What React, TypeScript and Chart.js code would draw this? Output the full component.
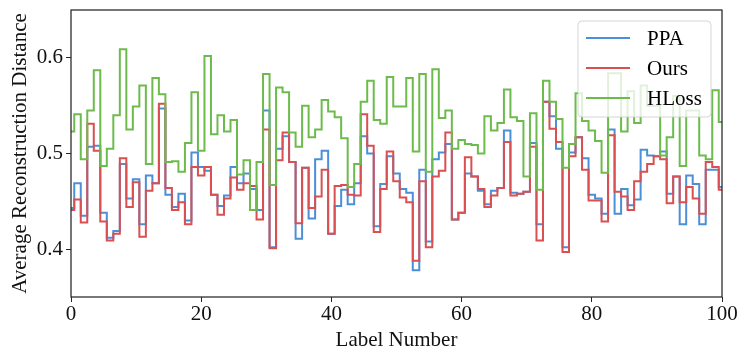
import React, { useEffect, useRef } from 'react';
import { Chart, registerables } from 'chart.js';

Chart.register(...registerables);

const seriesNames = ['PPA', 'Ours', 'HLoss'];
const seriesColors = ['#4b8fd6', '#d94f52', '#6cbb4c'];

const ppa = [
  0.443, 0.469, 0.435, 0.507, 0.508, 0.438, 0.412, 0.419, 0.489, 0.453,
  0.473, 0.426, 0.477, 0.469, 0.547, 0.457, 0.444, 0.458, 0.430, 0.501,
  0.486, 0.482, 0.457, 0.445, 0.456, 0.486, 0.469, 0.479, 0.463, 0.441,
  0.545, 0.402, 0.505, 0.518, 0.491, 0.411, 0.485, 0.432, 0.494, 0.503,
  0.416, 0.445, 0.462, 0.447, 0.469, 0.518, 0.500, 0.424, 0.468, 0.497,
  0.479, 0.463, 0.459, 0.378, 0.483, 0.408, 0.494, 0.501, 0.510, 0.431,
  0.438, 0.479, 0.476, 0.461, 0.447, 0.461, 0.464, 0.524, 0.459, 0.458,
  0.460, 0.511, 0.426, 0.554, 0.539, 0.505, 0.402, 0.501, 0.517, 0.495,
  0.457, 0.453, 0.437, 0.525, 0.437, 0.463, 0.446, 0.452, 0.504, 0.498,
  0.497, 0.502, 0.458, 0.476, 0.426, 0.477, 0.468, 0.426, 0.483, 0.483,
  0.465,
];

const ours = [
  0.441, 0.452, 0.428, 0.531, 0.503, 0.429, 0.409, 0.416, 0.495, 0.444,
  0.470, 0.413, 0.461, 0.469, 0.552, 0.464, 0.441, 0.449, 0.426, 0.486,
  0.477, 0.486, 0.457, 0.436, 0.453, 0.475, 0.462, 0.469, 0.466, 0.431,
  0.525, 0.401, 0.493, 0.522, 0.491, 0.427, 0.485, 0.443, 0.455, 0.483,
  0.416, 0.466, 0.467, 0.457, 0.456, 0.541, 0.508, 0.418, 0.463, 0.502,
  0.471, 0.454, 0.449, 0.388, 0.471, 0.402, 0.476, 0.482, 0.522, 0.431,
  0.438, 0.496, 0.476, 0.463, 0.444, 0.456, 0.464, 0.512, 0.456, 0.458,
  0.460, 0.507, 0.409, 0.554, 0.526, 0.512, 0.397, 0.497, 0.517, 0.483,
  0.451, 0.451, 0.429, 0.519, 0.460, 0.455, 0.441, 0.471, 0.481, 0.489,
  0.497, 0.494, 0.448, 0.476, 0.449, 0.465, 0.453, 0.437, 0.491, 0.486,
  0.462,
];

const hloss = [
  0.523, 0.541, 0.494, 0.545, 0.587, 0.487, 0.505, 0.540, 0.609, 0.525,
  0.549, 0.571, 0.489, 0.579, 0.562, 0.491, 0.492, 0.481, 0.511, 0.564,
  0.503, 0.602, 0.520, 0.540, 0.523, 0.535, 0.478, 0.493, 0.441, 0.491,
  0.583, 0.467, 0.569, 0.564, 0.522, 0.507, 0.550, 0.517, 0.525, 0.556,
  0.544, 0.538, 0.516, 0.465, 0.489, 0.554, 0.576, 0.535, 0.531, 0.580,
  0.549, 0.549, 0.579, 0.502, 0.583, 0.481, 0.588, 0.537, 0.545, 0.505,
  0.514, 0.510, 0.509, 0.500, 0.539, 0.524, 0.532, 0.567, 0.538, 0.534,
  0.476, 0.542, 0.462, 0.576, 0.554, 0.536, 0.485, 0.510, 0.563, 0.534,
  0.524, 0.513, 0.480, 0.584, 0.584, 0.523, 0.565, 0.532, 0.571, 0.550,
  0.550, 0.498, 0.517, 0.560, 0.487, 0.545, 0.545, 0.498, 0.494, 0.566,
  0.533,
];

const labelNumbers = ppa.map((_, i) => i);
const xTicks = [0, 20, 40, 60, 80, 100];
const yTicks = [0.4, 0.5, 0.6];
const xTitle = 'Label Number';
const yTitle = 'Average Reconstruction Distance';

const FONT = "'Liberation Serif', 'Times New Roman', serif";

export default function App() {
  const ref = useRef<HTMLCanvasElement>(null);

  useEffect(() => {
    const canvas = ref.current;
    if (!canvas) return;

    const framePlugin = {
      id: 'frame',
      afterDatasetsDraw(chart: any) {
        const { ctx, chartArea } = chart;
        ctx.save();
        ctx.strokeStyle = '#262626';
        ctx.lineWidth = 1.25;
        ctx.strokeRect(chartArea.left, chartArea.top, chartArea.right - chartArea.left, chartArea.bottom - chartArea.top);
        ctx.restore();
      },
    };

    const legendPlugin = {
      id: 'mplLegend',
      afterDraw(chart: any) {
        const { ctx } = chart;
        const x0 = 578, y0 = 21, w = 133, h = 96, r = 4;
        ctx.save();
        ctx.beginPath();
        ctx.moveTo(x0 + r, y0);
        ctx.lineTo(x0 + w - r, y0);
        ctx.quadraticCurveTo(x0 + w, y0, x0 + w, y0 + r);
        ctx.lineTo(x0 + w, y0 + h - r);
        ctx.quadraticCurveTo(x0 + w, y0 + h, x0 + w - r, y0 + h);
        ctx.lineTo(x0 + r, y0 + h);
        ctx.quadraticCurveTo(x0, y0 + h, x0, y0 + h - r);
        ctx.lineTo(x0, y0 + r);
        ctx.quadraticCurveTo(x0, y0, x0 + r, y0);
        ctx.closePath();
        ctx.fillStyle = 'rgba(255,255,255,0.8)';
        ctx.fill();
        ctx.strokeStyle = 'rgba(204,204,204,0.8)';
        ctx.lineWidth = 1;
        ctx.stroke();
        chart.data.datasets.forEach((ds: any, i: number) => {
          const yy = 38 + i * 30;
          ctx.beginPath();
          ctx.moveTo(586, yy);
          ctx.lineTo(630, yy);
          ctx.strokeStyle = ds.borderColor;
          ctx.lineWidth = 2;
          ctx.stroke();
          ctx.fillStyle = '#000';
          ctx.font = `21px ${FONT}`;
          ctx.textBaseline = 'middle';
          ctx.textAlign = 'left';
          ctx.fillText(ds.label, 647, yy + 1);
        });
        ctx.restore();
      },
    };

    const series = [ppa, ours, hloss];
    const chart = new Chart(canvas, {
      type: 'line',
      data: {
        datasets: series.map((vals, i) => ({
          label: seriesNames[i],
          data: vals.map((v, j) => ({ x: labelNumbers[j], y: v })),
          borderColor: seriesColors[i],
          backgroundColor: seriesColors[i],
          borderWidth: 2,
          pointRadius: 0,
          fill: false,
          stepped: 'middle',
          order: 2 - i,
        })),
      },
      options: {
        responsive: false,
        animation: false,
        events: [],
        layout: { padding: { left: 0, right: 26, top: 10, bottom: 0 } },
        plugins: { legend: { display: false }, tooltip: { enabled: false } },
        scales: {
          x: {
            type: 'linear',
            min: 0,
            max: 100,
            afterBuildTicks: (s: any) => { s.ticks = xTicks.map((v) => ({ value: v })); },
            afterFit: (s: any) => { s.height = 64; s.paddingLeft = 0; s.paddingRight = 0; },
            grid: { drawOnChartArea: false, drawTicks: true, tickLength: 5, color: '#262626', lineWidth: 1 },
            border: { display: false },
            ticks: { font: { family: FONT, size: 21 }, color: '#111', padding: 0, maxRotation: 0, autoSkip: false },
            title: { display: true, text: xTitle, font: { family: FONT, size: 21 }, color: '#111', padding: { top: 0, bottom: 8 } },
          },
          y: {
            type: 'linear',
            min: 0.35,
            max: 0.65,
            afterBuildTicks: (s: any) => { s.ticks = yTicks.map((v) => ({ value: v })); },
            afterFit: (s: any) => { s.width = 71; s.paddingTop = 0; s.paddingBottom = 0; },
            grid: { drawOnChartArea: false, drawTicks: true, tickLength: 5, color: '#262626', lineWidth: 1 },
            border: { display: false },
            ticks: { font: { family: FONT, size: 21 }, color: '#111', padding: 3, callback: (v: any) => Number(v).toFixed(1) },
            title: { display: true, text: yTitle, font: { family: FONT, size: 21 }, color: '#111', padding: { top: 8, bottom: 0 } },
          },
        },
      },
      plugins: [framePlugin, legendPlugin],
    });
    return () => chart.destroy();
  }, []);

  return (
    <div style={{ position: 'fixed', left: 0, top: 0, width: 748, height: 361, background: '#fff' }}>
      <canvas ref={ref} width={748} height={361} style={{ width: 748, height: 361, display: 'block' }} />
    </div>
  );
}
